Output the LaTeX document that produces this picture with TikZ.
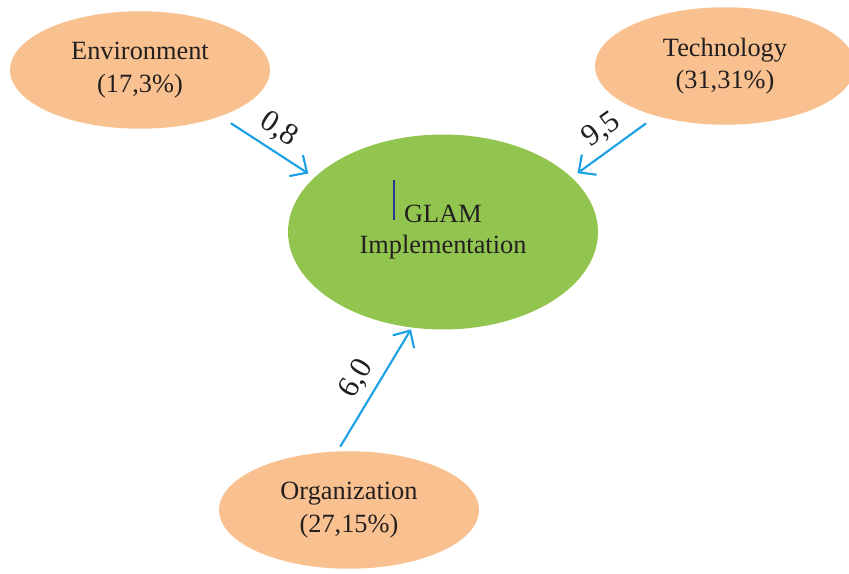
\documentclass[tikz,border=0pt]{standalone}
\usepackage{fontspec}
\setmainfont{Liberation Serif}
\usetikzlibrary{arrows.meta,shapes.geometric,positioning}
\definecolor{teoeink}{HTML}{231F20}
\definecolor{teoepeach}{HTML}{F8C18F}
\definecolor{teoegreen}{HTML}{92C54F}
\definecolor{teoeblue}{HTML}{1AA0E4}
\definecolor{teoecursor}{HTML}{2B3990}
\tikzset{
  factorvertex/.style={ellipse,draw=none,fill=teoepeach,minimum width=5.2cm,
    minimum height=2.35cm,inner sep=0pt,align=center,text=teoeink,
    font=\fontsize{15}{18.5}\selectfont},
  goalvertex/.style={ellipse,draw=none,fill=teoegreen,minimum width=6.2cm,
    minimum height=3.9cm,inner sep=0pt,align=center,text=teoeink,
    font=\fontsize{15}{17.5}\selectfont},
  weightarrow/.style={draw=teoeblue,line width=1.2pt,
    -{Straight Barb[length=2.6mm,width=5mm,line width=1.2pt]}},
  weightlabel/.style={sloped,above,text=teoeink,inner sep=4pt,
    font=\fontsize{17.5}{20}\selectfont},
}
\begin{document}
\begin{tikzpicture}[x=0.02cm,y=-0.02cm]
        \path[use as bounding box] (0,0) rectangle (849,574);
        \node[goalvertex] (glam) at (443,232) {GLAM\\Implementation};
        \foreach \n/\x/\y/\t in {env/140/70/{Environment\\(17,3\%)},
            tech/725/66/{Technology\\(31,31\%)},org/349/510/{Organization\\(27,15\%)}}
          {\node[factorvertex] (\n) at (\x,\y) {\t};}
        % weights on the three arrows into the goal
        \draw[weightarrow,shorten <=7pt,shorten >=4pt] (env.-30) -- node[weightlabel] {0,8} (glam.157);
        \draw[weightarrow,shorten <=7pt,shorten >=4pt] (tech.216) -- node[weightlabel] {9,5} (glam.23);
        \draw[weightarrow,shorten <=3pt,shorten >=1pt] (org.101) -- node[weightlabel] {6,0} (glam.-108);
        \draw[teoecursor,line width=1pt] (394,180) -- (394,220);
      \end{tikzpicture}
\end{document}
